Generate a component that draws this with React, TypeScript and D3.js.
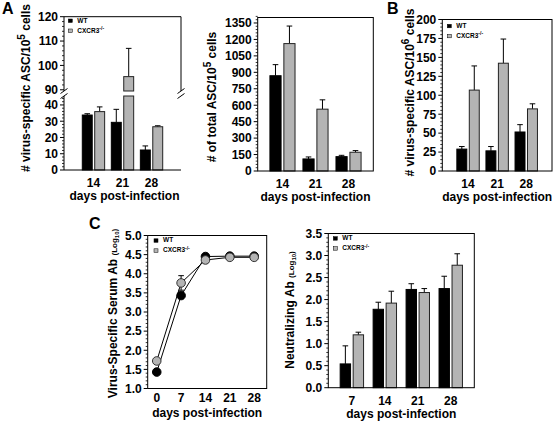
import React from 'react';
import * as d3 from 'd3';

const FONT = "'Liberation Sans', Arial, Helvetica, sans-serif";
const GRAY = '#b4b4b4';
const EDGE = '#222';

// Panel A (left): virus-specific ASC / 10^5 cells (broken axis)
const ascDays = ['14', '21', '28'];
const ascWT = [33.8, 29.3, 12.3];
const ascWTErr = [34.6, 37.3, 14.8];
const ascKO = [35.9, 95.4, 26.6];
const ascKOErr = [38.8, 107, 27.2];
const ascTicksLow = [0, 10, 20, 30, 40];
const ascTicksHigh = [90, 100, 110, 120];

// Panel A (middle): total ASC / 10^5 cells
const totDays = ['14', '21', '28'];
const totWT = [869, 110, 131];
const totWTErr = [970, 128, 143];
const totKO = [1162, 564, 171];
const totKOErr = [1322, 649, 186];
const totTicks = [0, 150, 300, 450, 600, 750, 900, 1050, 1200, 1350];

// Panel B: virus-specific ASC / 10^6 cells
const bDays = ['14', '21', '28'];
const bWT = [28.9, 26.6, 51.5];
const bWTErr = [32.3, 32.3, 61.2];
const bKO = [106.8, 142.3, 82];
const bKOErr = [138.7, 174.2, 88.7];
const bTicks = [0, 25, 50, 75, 100, 125, 150, 175, 200];

// Panel C (left): virus-specific serum Ab (log10)
const serumDays = [0, 7, 14, 21, 28];
const serumWT = [1.43, 3.43, 4.45, 4.46, 4.46];
const serumWTErr = [0, 0.08, 0.02, 0.02, 0.02];
const serumKO = [1.72, 3.76, 4.36, 4.43, 4.43];
const serumKOErr = [0, 0.19, 0.08, 0.02, 0.02];
const serumTicks = [1.0, 1.5, 2.0, 2.5, 3.0, 3.5, 4.0, 4.5, 5.0];

// Panel C (right): neutralizing Ab (log10)
const neutDays = ['7', '14', '21', '28'];
const neutWT = [0.54, 1.78, 2.23, 2.25];
const neutWTErr = [0.95, 1.94, 2.36, 2.53];
const neutKO = [1.2, 1.92, 2.16, 2.78];
const neutKOErr = [1.26, 2.19, 2.25, 3.04];
const neutTicks = [0, 0.5, 1.0, 1.5, 2.0, 2.5, 3.0, 3.5];

const series = ['WT', 'KO'];

function minorVals(lo: number, hi: number, step: number, majors: number[]) {
  const out: number[] = [];
  const n = Math.round((hi - lo) / step);
  for (let i = 0; i <= n; i++) {
    const v = lo + i * step;
    if (!majors.some((m) => Math.abs(m - v) < step / 10)) out.push(v);
  }
  return out;
}

function YTicks({ y, x, ticks, minor, fmt }: any) {
  return (
    <g>
      {minor.map((v: number, i: number) => (
        <line key={'m' + i} x1={x - 2} x2={x} y1={y(v)} y2={y(v)} stroke="#000" strokeWidth={0.8} />
      ))}
      {ticks.map((v: number, i: number) => (
        <g key={'t' + i}>
          <line x1={x - 4} x2={x} y1={y(v)} y2={y(v)} stroke="#000" strokeWidth={1} />
          <text x={x - 6} y={y(v)} dy="0.36em" textAnchor="end" fontSize={12} fontWeight="bold">
            {fmt(v)}
          </text>
        </g>
      ))}
    </g>
  );
}

function Legend({ x, y }: any) {
  return (
    <g fontSize={6.5} fontWeight="bold">
      <rect x={x} y={y} width={4} height={3.5} fill="#000" stroke="#000" strokeWidth={0.5} />
      <text x={x + 9} y={y + 3.6}>WT</text>
      <rect x={x} y={y + 10} width={4} height={3.5} fill={GRAY} stroke="#000" strokeWidth={0.5} />
      <text x={x + 9} y={y + 13.6}>
        CXCR3<tspan dy={-2.5} fontSize={5}>-/-</tspan>
      </text>
    </g>
  );
}

function ErrBar({ cx, y1, y2 }: any) {
  return (
    <g stroke="#000" strokeWidth={1}>
      <line x1={cx} x2={cx} y1={y1} y2={y2} />
      <line x1={cx - 2.8} x2={cx + 2.8} y1={y2} y2={y2} />
    </g>
  );
}

function XLabels({ x, cats, yBase, title, titleX, titleY }: any) {
  return (
    <g fontWeight="bold" fontSize={12}>
      {cats.map((c: string) => (
        <text key={c} x={x(c)} y={yBase} textAnchor="middle">
          {c}
        </text>
      ))}
      <text x={titleX} y={titleY} textAnchor="middle">
        {title}
      </text>
    </g>
  );
}

function BarPanel(p: any) {
  const { left, right, top, bottom, max, ticks, minorStep, fmt, cats, wt, wtErr, ko, koErr, padIn, padOut } = p;
  const y = d3.scaleLinear().domain([0, max]).range([bottom, top]);
  const x0 = d3.scaleBand<string>().domain(cats).range([left, right]).paddingInner(padIn).paddingOuter(padOut);
  const x1 = d3.scaleBand<string>().domain(series).range([0, x0.bandwidth()]).paddingInner(0.2);
  const vals: any = { WT: [wt, wtErr], KO: [ko, koErr] };
  const center = (c: string) => (x0(c) as number) + x0.bandwidth() / 2;
  return (
    <g>
      {cats.map((c: string, i: number) =>
        series.map((s) => {
          const [v, e] = vals[s];
          const bx = (x0(c) as number) + (x1(s) as number);
          const bw = x1.bandwidth();
          return (
            <g key={c + s}>
              <ErrBar cx={bx + bw / 2} y1={y(v[i])} y2={y(e[i])} />
              <rect x={bx} y={y(v[i])} width={bw} height={bottom - y(v[i])} fill={s === 'WT' ? '#000' : GRAY} stroke={s === 'WT' ? '#000' : EDGE} strokeWidth={1} />
            </g>
          );
        })
      )}
      <rect x={left} y={top} width={right - left} height={bottom - top} fill="none" stroke="#000" strokeWidth={1} />
      <YTicks y={y} x={left} ticks={ticks} minor={minorVals(0, max, minorStep, ticks)} fmt={fmt} />
      <XLabels x={center} cats={cats} yBase={bottom + 17} title="days post-infection" titleX={(left + right) / 2} titleY={bottom + 30} />
    </g>
  );
}

function BrokenPanel() {
  const left = 64, right = 181, top = 16.7, bottom = 170;
  const lowTop = 96, highBot = 91;
  const yLow = d3.scaleLinear().domain([0, 45.5]).range([bottom, lowTop]);
  const yHigh = d3.scaleLinear().domain([89.5, 120]).range([highBot, top]);
  const yv = (v: number) => (v <= 45.5 ? yLow(v) : yHigh(v));
  const x0 = d3.scaleBand<string>().domain(ascDays).range([left, right]).paddingInner(0.23).paddingOuter(0.63);
  const x1 = d3.scaleBand<string>().domain(series).range([0, x0.bandwidth()]).paddingInner(0.2);
  const vals: any = { WT: [ascWT, ascWTErr], KO: [ascKO, ascKOErr] };
  const center = (c: string) => (x0(c) as number) + x0.bandwidth() / 2;
  const brk = (x: number) => (
    <g stroke="#000" strokeWidth={1}>
      <line x1={x - 3.5} y1={highBot + 2.5} x2={x + 3.5} y2={highBot - 2.5} />
      <line x1={x - 3.5} y1={lowTop + 2.5} x2={x + 3.5} y2={lowTop - 2.5} />
    </g>
  );
  return (
    <g>
      {ascDays.map((c, i) =>
        series.map((s) => {
          const [v, e] = vals[s];
          const bx = (x0(c) as number) + (x1(s) as number);
          const bw = x1.bandwidth();
          const fill = s === 'WT' ? '#000' : GRAY;
          const stroke = s === 'WT' ? '#000' : EDGE;
          const broken = v[i] > 45.5;
          return (
            <g key={c + s}>
              <ErrBar cx={bx + bw / 2} y1={yv(v[i])} y2={yv(e[i])} />
              {broken ? (
                <g>
                  <rect x={bx} y={lowTop} width={bw} height={bottom - lowTop} fill={fill} stroke={stroke} />
                  <rect x={bx} y={yHigh(v[i])} width={bw} height={highBot - yHigh(v[i])} fill={fill} stroke={stroke} />
                </g>
              ) : (
                <rect x={bx} y={yv(v[i])} width={bw} height={bottom - yv(v[i])} fill={fill} stroke={stroke} />
              )}
            </g>
          );
        })
      )}
      <g stroke="#000" strokeWidth={1} fill="none">
        <line x1={left} x2={right} y1={top} y2={top} />
        <line x1={left} x2={left} y1={top} y2={highBot} />
        <line x1={right} x2={right} y1={top} y2={highBot} />
        <line x1={left} x2={left} y1={lowTop} y2={bottom} />
        <line x1={left} x2={right} y1={bottom} y2={bottom} />
      </g>
      {brk(left)}
      {brk(right)}
      <YTicks y={yLow} x={left} ticks={ascTicksLow} minor={minorVals(0, 44, 2, ascTicksLow)} fmt={(v: number) => String(v)} />
      <YTicks y={yHigh} x={left} ticks={ascTicksHigh} minor={minorVals(90, 120, 2, ascTicksHigh)} fmt={(v: number) => String(v)} />
      <XLabels x={center} cats={ascDays} yBase={bottom + 17} title="days post-infection" titleX={(left + right) / 2 + 2} titleY={bottom + 30} />
      <Legend x={68.3} y={19} />
    </g>
  );
}

function SerumPanel() {
  const left = 147.7, right = 266.7, top = 235.5, bottom = 388.5;
  const x = d3.scaleLinear().domain([-2.6, 31.6]).range([left, right]);
  const y = d3.scaleLinear().domain([1, 5]).range([bottom, top]);
  const line = d3
    .line<number>()
    .x((_, i) => x(serumDays[i]))
    .y((d) => y(d));
  const errs = (vals: number[], e: number[]) =>
    serumDays.map((d, i) =>
      e[i] > 0.03 ? (
        <g key={i} stroke="#000" strokeWidth={1}>
          <line x1={x(d)} x2={x(d)} y1={y(vals[i] - e[i])} y2={y(vals[i] + e[i])} />
          <line x1={x(d) - 2.8} x2={x(d) + 2.8} y1={y(vals[i] + e[i])} y2={y(vals[i] + e[i])} />
          <line x1={x(d) - 2.8} x2={x(d) + 2.8} y1={y(vals[i] - e[i])} y2={y(vals[i] - e[i])} />
        </g>
      ) : null
    );
  return (
    <g>
      <rect x={left} y={top} width={right - left} height={bottom - top} fill="none" stroke="#000" strokeWidth={1} />
      {errs(serumWT, serumWTErr)}
      {errs(serumKO, serumKOErr)}
      <path d={line(serumWT) as string} fill="none" stroke="#000" strokeWidth={1} />
      <path d={line(serumKO) as string} fill="none" stroke="#000" strokeWidth={1} />
      {serumDays.map((d, i) => (
        <circle key={'w' + i} cx={x(d)} cy={y(serumWT[i])} r={4.3} fill="#000" stroke="#000" />
      ))}
      {serumDays.map((d, i) => (
        <circle key={'k' + i} cx={x(d)} cy={y(serumKO[i])} r={4.3} fill={GRAY} stroke="#333" strokeWidth={1} />
      ))}
      <YTicks y={y} x={left} ticks={serumTicks} minor={minorVals(1, 5, 0.1, serumTicks)} fmt={(v: number) => v.toFixed(1)} />
      <g fontWeight="bold" fontSize={12}>
        {serumDays.map((d) => (
          <text key={d} x={x(d)} y={402} textAnchor="middle">
            {d}
          </text>
        ))}
        <text x={(left + right) / 2} y={416.5} textAnchor="middle">
          days post-infection
        </text>
      </g>
      <Legend x={154} y={238.8} />
    </g>
  );
}

export default function App() {
  return (
    <svg
      width={560}
      height={421}
      style={{ position: 'absolute', left: 0, top: 0, background: '#fff' }}
      fontFamily={FONT}
    >
      <rect x={0} y={0} width={560} height={421} fill="#fff" />
      {/* panel letters */}
      <g fontWeight="bold" fontSize={16}>
        <text x={2} y={14}>A</text>
        <text x={387} y={14}>B</text>
        <text x={89} y={229}>C</text>
      </g>

      <BrokenPanel />
      <text transform="translate(29.5,88) rotate(-90)" textAnchor="middle" fontSize={12} fontWeight="bold">
        # virus-specific ASC/10<tspan dy={-5} fontSize={10}>5</tspan>
        <tspan dy={5}> cells</tspan>
      </text>

      <BarPanel
        left={257.7}
        right={373.3}
        top={17.5}
        bottom={171}
        max={1400}
        ticks={totTicks}
        minorStep={30}
        fmt={(v: number) => String(v)}
        cats={totDays}
        wt={totWT}
        wtErr={totWTErr}
        ko={totKO}
        koErr={totKOErr}
        padIn={0.24}
        padOut={0.37}
      />
      <text transform="translate(216,97) rotate(-90)" textAnchor="middle" fontSize={12} fontWeight="bold">
        # of total ASC/10<tspan dy={-5} fontSize={10}>5</tspan>
        <tspan dy={5}> cells</tspan>
      </text>

      <BarPanel
        left={442.3}
        right={552}
        top={19.5}
        bottom={171}
        max={200}
        ticks={bTicks}
        minorStep={5}
        fmt={(v: number) => String(v)}
        cats={bDays}
        wt={bWT}
        wtErr={bWTErr}
        ko={bKO}
        koErr={bKOErr}
        padIn={0.23}
        padOut={0.5}
      />
      <Legend x={447.3} y={24.3} />
      <text transform="translate(414,92.5) rotate(-90)" textAnchor="middle" fontSize={12} fontWeight="bold">
        # virus-specific ASC/10<tspan dy={-5} fontSize={10}>6</tspan>
        <tspan dy={5}> cells</tspan>
      </text>

      <SerumPanel />
      <text transform="translate(116.5,313.5) rotate(-90)" textAnchor="middle" fontSize={12} fontWeight="bold">
        Virus-Specific Serum Ab <tspan fontSize={8}>(Log</tspan>
        <tspan fontSize={6} dy={2}>10</tspan>
        <tspan fontSize={8} dy={-2}>)</tspan>
      </text>

      <BarPanel
        left={328.3}
        right={474.3}
        top={233.5}
        bottom={387.7}
        max={3.5}
        ticks={neutTicks}
        minorStep={0.1}
        fmt={(v: number) => v.toFixed(1)}
        cats={neutDays}
        wt={neutWT}
        wtErr={neutWTErr}
        ko={neutKO}
        koErr={neutKOErr}
        padIn={0.29}
        padOut={0.36}
      />
      <Legend x={333.3} y={236.7} />
      <text transform="translate(294,310) rotate(-90)" textAnchor="middle" fontSize={12} fontWeight="bold">
        Neutralizing Ab <tspan fontSize={8}>(Log</tspan>
        <tspan fontSize={6} dy={2}>10</tspan>
        <tspan fontSize={8} dy={-2}>)</tspan>
      </text>
    </svg>
  );
}
